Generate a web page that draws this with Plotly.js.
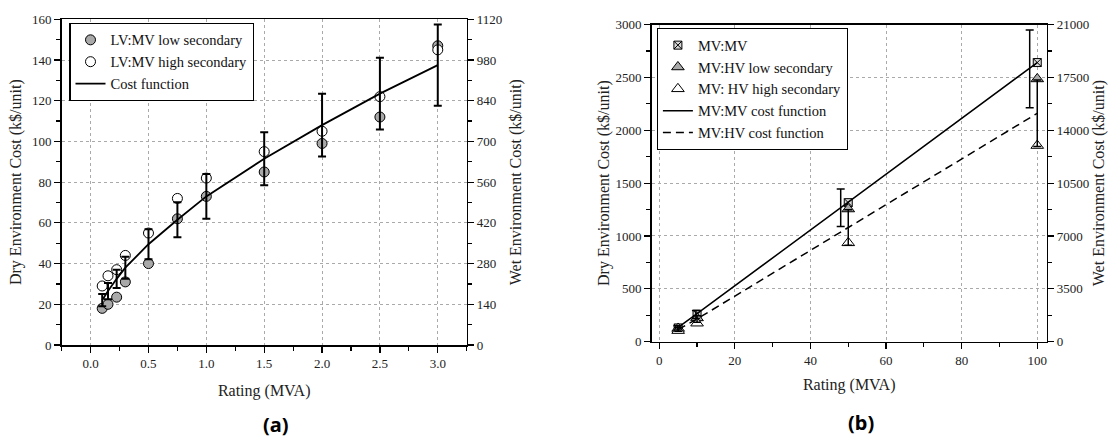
<!DOCTYPE html>
<html>
<head>
<meta charset="utf-8">
<script src="https://cdn.plot.ly/plotly-3.0.1.min.js"></script>
<style>html,body{margin:0;padding:0;background:#fff;}#chart{width:1108px;height:437px;}</style>
</head>
<body>
<div id="chart"></div>
<script>
// ---- (a) LV:MV data ----
const lvRating = [0.1, 0.15, 0.225, 0.3, 0.5, 0.75, 1.0, 1.5, 2.0, 2.5, 3.0];
const lvLowSecondary = [18, 20, 23.5, 31, 40, 62, 73, 85, 99, 112, 147];
const lvHighSecondary = [29, 34, 37, 44, 55, 72, 82, 95, 105, 122, 145];
const lvCostFunction = [22, 26.5, 32.5, 38, 49.5, 61.5, 73, 91.5, 108, 123.5, 137.5];
const lvCostError = [3, 4, 4.5, 5.4, 7.4, 8.6, 11, 13, 15.4, 17.6, 20];

// ---- (b) MV:MV and MV:HV data ----
const mvRating = [5, 10, 50, 100];
const mvMV = [130, 260, 1315, 2640];
const mvHVLowSecondary = [125, 225, 1255, 2485];
const mvHVHighSecondary = [105, 175, 935, 1855];
const mvMVCostFunction = [135, 265, 1320, 2640];
const mvHVCostFunction = [115, 215, 1080, 2160];
const mvMVErrRating = [4.8, 9.7, 48, 98];
const mvMVErrCenter = [130, 258, 1267, 2580];
const mvMVErr = [20, 38, 177, 368];
const mvHVErr = [16, 30, 168, 315];

// tick labels
const xTicksA = [0, 0.5, 1.0, 1.5, 2.0, 2.5, 3.0];
const xTickTextA = ['0.0', '0.5', '1.0', '1.5', '2.0', '2.5', '3.0'];

const FONT = '"Liberation Serif", "Times New Roman", Times, serif';
const GRAY = '#a9a9a9';

const traces = [
  {x: lvRating, y: lvLowSecondary, type: 'scatter', mode: 'markers', name: 'LV:MV low secondary',
   xaxis: 'x', yaxis: 'y', legend: 'legend',
   marker: {symbol: 'circle', size: 10, color: GRAY, line: {color: '#000', width: 1}}},
  {x: lvRating, y: lvHighSecondary, type: 'scatter', mode: 'markers', name: 'LV:MV high secondary',
   xaxis: 'x', yaxis: 'y', legend: 'legend',
   marker: {symbol: 'circle', size: 10, color: '#fff', line: {color: '#000', width: 1}}},
  {x: lvRating, y: lvCostFunction, type: 'scatter', mode: 'lines', name: 'Cost function',
   xaxis: 'x', yaxis: 'y', legend: 'legend', line: {color: '#000', width: 1.8}},
  {x: lvRating, y: lvCostFunction, type: 'scatter', mode: 'markers', showlegend: false, hoverinfo: 'skip',
   xaxis: 'x', yaxis: 'y', marker: {size: 1, color: 'rgba(0,0,0,0)'},
   error_y: {type: 'data', array: lvCostError, visible: true, color: '#000', thickness: 2, width: 4}},
  // empty helper trace so the right-hand (wet cost) axis is drawn
  {x: [], y: [], type: 'scatter', mode: 'markers', showlegend: false, hoverinfo: 'skip', xaxis: 'x', yaxis: 'y2'},

  {x: mvRating, y: mvMV, type: 'scatter', mode: 'markers', name: 'MV:MV',
   xaxis: 'x2', yaxis: 'y3', legend: 'legend2',
   marker: {symbol: 'square-x', size: 8, color: '#d8d8d8', line: {color: '#000', width: 1}}},
  {x: mvRating, y: mvHVLowSecondary, type: 'scatter', mode: 'markers', name: 'MV:HV low secondary',
   xaxis: 'x2', yaxis: 'y3', legend: 'legend2',
   marker: {symbol: 'triangle-up', size: 11, color: GRAY, line: {color: '#000', width: 1}}},
  {x: mvRating, y: mvHVHighSecondary, type: 'scatter', mode: 'markers', name: 'MV: HV high secondary',
   xaxis: 'x2', yaxis: 'y3', legend: 'legend2',
   marker: {symbol: 'triangle-up', size: 11, color: '#fff', line: {color: '#000', width: 1}}},
  {x: mvRating, y: mvMVCostFunction, type: 'scatter', mode: 'lines', name: 'MV:MV cost function',
   xaxis: 'x2', yaxis: 'y3', legend: 'legend2', line: {color: '#000', width: 1.5}},
  {x: mvRating, y: mvHVCostFunction, type: 'scatter', mode: 'lines', name: 'MV:HV cost function',
   xaxis: 'x2', yaxis: 'y3', legend: 'legend2', line: {color: '#000', width: 1.5, dash: '8px,5px'}},
  {x: mvMVErrRating, y: mvMVErrCenter, type: 'scatter', mode: 'markers', showlegend: false, hoverinfo: 'skip',
   xaxis: 'x2', yaxis: 'y3', marker: {size: 1, color: 'rgba(0,0,0,0)'},
   error_y: {type: 'data', array: mvMVErr, visible: true, color: '#000', thickness: 1.5, width: 4}},
  {x: mvRating, y: mvHVCostFunction, type: 'scatter', mode: 'markers', showlegend: false, hoverinfo: 'skip',
   xaxis: 'x2', yaxis: 'y3', marker: {size: 1, color: 'rgba(0,0,0,0)'},
   error_y: {type: 'data', array: mvHVErr, visible: true, color: '#000', thickness: 1.5, width: 4}},
  {x: [], y: [], type: 'scatter', mode: 'markers', showlegend: false, hoverinfo: 'skip', xaxis: 'x2', yaxis: 'y4'}
];

const W = 1108, H = 437;
const dx = (a, b) => [a / W, b / W];
const dy = (top, bottom) => [(H - bottom) / H, (H - top) / H];

const tickFont = {family: FONT, size: 13, color: '#222'};
const titleFont = {family: FONT, size: 16, color: '#222'};
const legendFont = {family: FONT, size: 14.5, color: '#111'};
const gridCommon = {gridcolor: '#aaaaaa', griddash: '3px,3px', gridwidth: 1};
const lineCommon = {showline: true, linecolor: '#000', linewidth: 1.5, ticks: 'outside', ticklen: 6,
  tickwidth: 1.2, tickcolor: '#000', tickfont: tickFont, zeroline: false, automargin: false};

const layout = {
  width: W, height: H,
  margin: {l: 0, r: 0, t: 0, b: 0},
  paper_bgcolor: '#fff', plot_bgcolor: '#fff',
  font: {family: FONT, color: '#222'},
  xaxis: Object.assign({}, lineCommon, gridCommon, {
    domain: dx(61.7, 466.7), range: [-0.25, 3.25], anchor: 'y', mirror: true,
    tickvals: xTicksA, ticktext: xTickTextA, showgrid: true,
    minor: {dtick: 0.25, tick0: 0, ticklen: 4, ticks: 'outside', showgrid: false, tickcolor: '#000'},
    title: {text: 'Rating (MVA)', font: titleFont, standoff: 14}
  }),
  yaxis: Object.assign({}, lineCommon, gridCommon, {
    domain: dy(19.3, 345), range: [0, 160], dtick: 20, anchor: 'x', showgrid: true,
    minor: {dtick: 10, ticklen: 4, ticks: 'outside', showgrid: false, tickcolor: '#000'},
    title: {text: 'Dry Environment Cost (k$/unit)', font: titleFont, standoff: 6}
  }),
  yaxis2: Object.assign({}, lineCommon, {
    overlaying: 'y', side: 'right', anchor: 'x', range: [0, 1120], dtick: 140, showgrid: false,
    minor: {dtick: 70, ticklen: 4, ticks: 'outside', showgrid: false, tickcolor: '#000'},
    title: {text: 'Wet Environment Cost (k$/unit)', font: titleFont, standoff: 8}
  }),
  xaxis2: Object.assign({}, lineCommon, gridCommon, {
    domain: dx(651.7, 1046.7), range: [-2, 102.5], anchor: 'y3', mirror: true, dtick: 20, showgrid: true,
    minor: {dtick: 10, ticklen: 4, ticks: 'outside', showgrid: false, tickcolor: '#000'},
    title: {text: 'Rating (MVA)', font: titleFont, standoff: 12}
  }),
  yaxis3: Object.assign({}, lineCommon, gridCommon, {
    domain: dy(24.5, 341.7), range: [0, 3000], dtick: 500, anchor: 'x2', showgrid: true,
    minor: {dtick: 250, ticklen: 4, ticks: 'outside', showgrid: false, tickcolor: '#000'},
    title: {text: 'Dry Environment Cost (k$/unit)', font: titleFont, standoff: 2}
  }),
  yaxis4: Object.assign({}, lineCommon, {
    overlaying: 'y3', side: 'right', anchor: 'x2', range: [0, 21000], dtick: 3500, showgrid: false,
    tickformat: 'd',
    minor: {dtick: 1750, ticklen: 4, ticks: 'outside', showgrid: false, tickcolor: '#000'},
    title: {text: 'Wet Environment Cost (k$/unit)', font: titleFont, standoff: 6}
  }),
  legend: {x: 69.3 / W, y: (H - 22.7) / H, xanchor: 'left', yanchor: 'top',
    bgcolor: '#fff', bordercolor: '#000', borderwidth: 1.2,
    font: legendFont, tracegroupgap: 0, itemwidth: 30},
  legend2: {x: 656.7 / W, y: (H - 28) / H, xanchor: 'left', yanchor: 'top',
    bgcolor: '#fff', bordercolor: '#000', borderwidth: 1.2,
    font: legendFont, tracegroupgap: 0, itemwidth: 30},
  annotations: [
    {text: '<b>(a)</b>', xref: 'paper', yref: 'paper', x: 276 / W, y: (H - 424) / H,
     xanchor: 'center', yanchor: 'middle', showarrow: false,
     font: {family: '"Noto Sans", "Open Sans", sans-serif', size: 20, color: '#000'}},
    {text: '<b>(b)</b>', xref: 'paper', yref: 'paper', x: 861 / W, y: (H - 422) / H,
     xanchor: 'center', yanchor: 'middle', showarrow: false,
     font: {family: '"Noto Sans", "Open Sans", sans-serif', size: 20, color: '#000'}}
  ],
  showlegend: true
};

Plotly.newPlot('chart', traces, layout, {staticPlot: true, displayModeBar: false});
</script>
</body>
</html>
